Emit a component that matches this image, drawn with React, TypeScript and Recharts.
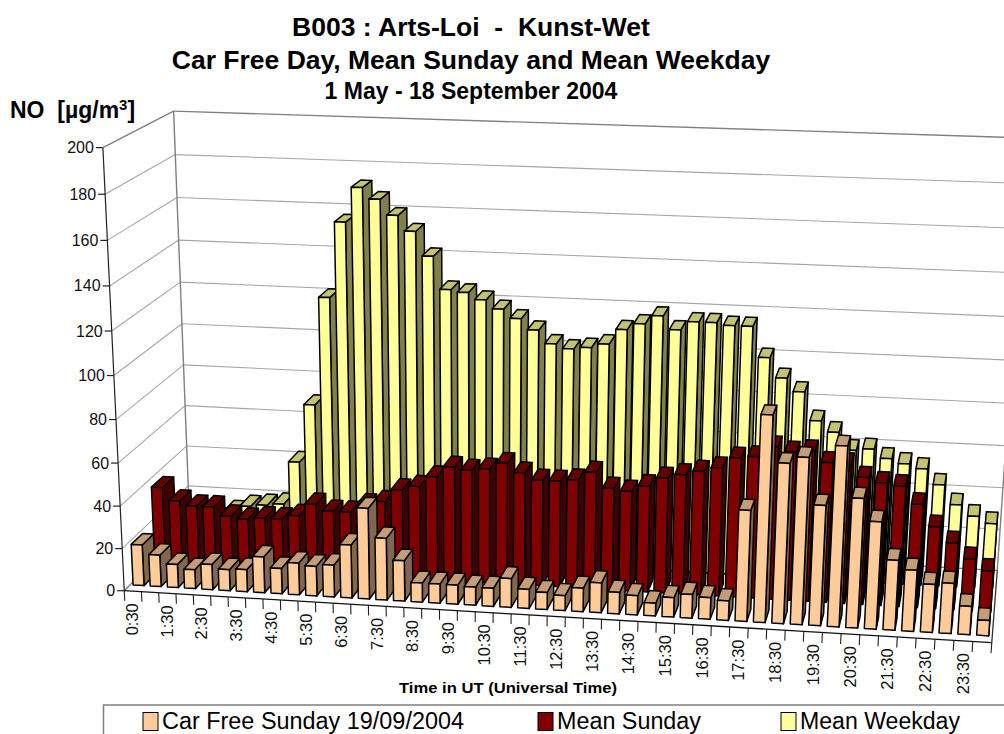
import { BarChart, Bar, XAxis, YAxis, CartesianGrid, Legend } from "recharts";

const times = [
  "0:30", "1:00", "1:30", "2:00", "2:30", "3:00", "3:30", "4:00", "4:30", "5:00", "5:30", "6:00",
  "6:30", "7:00", "7:30", "8:00", "8:30", "9:00", "9:30", "10:00", "10:30", "11:00", "11:30", "12:00",
  "12:30", "13:00", "13:30", "14:00", "14:30", "15:00", "15:30", "16:00", "16:30", "17:00", "17:30", "18:00",
  "18:30", "19:00", "19:30", "20:00", "20:30", "21:00", "21:30", "22:00", "22:30", "23:00", "23:30", "24:00",
];
const carFree = [
  19.4, 15, 11, 9, 12, 10, 10.5, 17, 12, 15, 14, 15,
  25, 42.5, 29, 19, 9, 9, 9, 8.5, 8.5, 13.5, 9, 8,
  7, 11, 14, 10, 9, 6, 9, 11, 10, 9, 51, 94,
  73, 76, 55, 82, 59, 49, 32, 28, 22, 23, 13, 7,
];
const meanSunday = [
  37, 31, 29, 29, 25, 24, 25, 25, 27, 33, 30, 30,
  34, 36, 42, 44, 49, 54, 53, 54, 57, 53, 50, 50,
  51, 55, 48, 47, 50, 54, 56, 58, 60, 65, 66, 71,
  69, 70, 65, 65, 59, 57, 56, 48, 38, 31, 24, 19,
];
const meanWeekday = [
  16, 14, 13, 17, 20, 21, 22, 43, 71, 122, 157, 173,
  168, 161, 154, 143, 128, 127, 124, 120, 116, 111, 105, 103,
  104, 106, 113, 116, 120, 114, 118, 118, 117, 117, 103, 94,
  88, 75, 70, 62, 63, 59, 57, 55, 48, 39, 34, 31,
];
const yTicks = [0, 20, 40, 60, 80, 100, 120, 140, 160, 180, 200];

const data = times.map((time, i) => ({
  time,
  carFree: carFree[i],
  meanSunday: meanSunday[i],
  meanWeekday: meanWeekday[i],
}));

// flat plot area recharts works in, everything gets projected from here
const PLOT = { left: 100, top: 148, width: 900, height: 442 };

// box corners (u along time, w into the page, h up) -> where they sit in the picture
const corners: number[][] = [
  [0, 0, 0, 123, 590],
  [0, 0, 1, 104, 148],
  [0, 1, 1, 172.5, 110.7],
  [0, 1, 0, 191, 526],
  [1, 0, 0, 992, 643],
  [1, 1, 0, 997, 570],
  [1, 1, 1, 1027, 138],
];

function solveCamera() {
  const rows: number[][] = [];
  corners.forEach(([u, w, h, X, Y]) => {
    rows.push([1, u, w, h, 0, 0, 0, 0, -X * u, -X * w, -X * h, X]);
    rows.push([0, 0, 0, 0, 1, u, w, h, -Y * u, -Y * w, -Y * h, Y]);
  });
  const n = 11;
  const m: number[][] = [];
  for (let i = 0; i < n; i++) {
    const r: number[] = [];
    for (let j = 0; j <= n; j++) {
      let s = 0;
      rows.forEach((row) => (s += row[i] * row[j]));
      r.push(s);
    }
    m.push(r);
  }
  for (let i = 0; i < n; i++) {
    let p = i;
    for (let k = i + 1; k < n; k++) if (Math.abs(m[k][i]) > Math.abs(m[p][i])) p = k;
    [m[i], m[p]] = [m[p], m[i]];
    for (let k = 0; k < n; k++) {
      if (k === i) continue;
      const f = m[k][i] / m[i][i];
      for (let j = i; j <= n; j++) m[k][j] -= f * m[i][j];
    }
  }
  return m.map((r, i) => r[n] / r[i]);
}

const cam = solveCamera();

const project = (u: number, w: number, h: number) => {
  const d = 1 + cam[8] * u + cam[9] * w + cam[10] * h;
  return {
    x: (cam[0] + cam[1] * u + cam[2] * w + cam[3] * h) / d,
    y: (cam[4] + cam[5] * u + cam[6] * w + cam[7] * h) / d,
  };
};

const toPoints = (pts: number[][]) =>
  pts
    .map(([u, w, h]) => {
      const p = project(u, w, h);
      return `${p.x.toFixed(1)},${p.y.toFixed(1)}`;
    })
    .join(" ");

const Edge = ({ from, to, color, width }: any) => {
  const a = project(from[0], from[1], from[2]);
  const b = project(to[0], to[1], to[2]);
  return <line x1={a.x} y1={a.y} x2={b.x} y2={b.y} stroke={color} strokeWidth={width} />;
};

const heightOf = (y: number) => (PLOT.top + PLOT.height - y) / PLOT.height;

// one horizontal grid line = a line on the side wall + a line on the back wall
const WallLine = (props: any) => {
  const h = heightOf(props.y1);
  const edge = h > 0.99 || h < 0.01;
  const color = edge ? "#808080" : "#a6a6a6";
  const width = edge ? 1.4 : 1.1;
  return (
    <g key={props.key}>
      <Edge from={[0, 0, h]} to={[0, 1, h]} color={color} width={width} />
      <Edge from={[0, 1, h]} to={[1, 1, h]} color={color} width={width} />
      {h > 0.99 && (
        <>
          <Edge from={[0, 1, 0]} to={[0, 1, 1]} color="#808080" width={1.4} />
          <Edge from={[1, 1, 0]} to={[1, 1, 1]} color="#808080" width={1.4} />
        </>
      )}
    </g>
  );
};

const YTick = ({ y, payload }: any) => {
  const h = heightOf(y);
  const p = project(0, 0, h);
  return (
    <g>
      {h < 0.01 && (
        <>
          <Edge from={[0, 0, 0]} to={[0, 0, 1]} color="#222" width={1.2} />
          <Edge from={[0, 0, 0]} to={[1, 0, 0]} color="#111" width={1.3} />
          <Edge from={[1, 0, 0]} to={[1, 1, 0]} color="#333" width={1.3} />
        </>
      )}
      <line x1={p.x - 7} y1={p.y} x2={p.x} y2={p.y} stroke="#222" strokeWidth={1.2} />
      <text x={p.x - 9} y={p.y + 5.5} textAnchor="end" fontSize={16} fontFamily="Liberation Sans" fill="#111">
        {payload.value}
      </text>
    </g>
  );
};

const XTick = ({ x, payload, index }: any) => {
  const slot = 1 / times.length;
  const u = (x - PLOT.left) / PLOT.width;
  const c = project(u, 0, 0);
  const mark = (at: number) => <Edge from={[at, 0, 0]} to={[at, 0, -0.024]} color="#222" width={1.1} />;
  return (
    <g>
      {mark(u - slot / 2)}
      {index === times.length - 1 && mark(u + slot / 2)}
      {index % 2 === 0 && (
        <text
          transform={`translate(${c.x + 5.5},${c.y + 12}) rotate(-90)`}
          textAnchor="end"
          fontSize={16.5}
          fontFamily="Liberation Sans"
          fill="#111"
        >
          {payload.value}
        </text>
      )}
    </g>
  );
};

// 3d box out of the flat rectangle recharts hands over
const Box = ({ x, y, width, height, w0, w1, front, side, top }: any) => {
  const u0 = (x - PLOT.left) / PLOT.width;
  const u1 = (x + width - PLOT.left) / PLOT.width;
  const h = height > 0 ? heightOf(y) : 0;
  const common = { stroke: "#000", strokeWidth: 1.5, strokeLinejoin: "round" as const };
  return (
    <g>
      <polygon points={toPoints([[u1, w0, 0], [u1, w1, 0], [u1, w1, h], [u1, w0, h]])} fill={side} {...common} />
      <polygon points={toPoints([[u0, w0, h], [u1, w0, h], [u1, w1, h], [u0, w1, h]])} fill={top} {...common} />
      <polygon points={toPoints([[u0, w0, 0], [u1, w0, 0], [u1, w0, h], [u0, w0, h]])} fill={front} {...common} />
    </g>
  );
};

const legendItems = [
  { x: 143, label: "Car Free Sunday 19/09/2004", color: "#FFCC99", len: 302 },
  { x: 538, label: "Mean Sunday", color: "#800000", len: 144 },
  { x: 781, label: "Mean Weekday", color: "#FFFF99", len: 160 },
];

const LegendBox = () => (
  <svg width={1004} height={30} style={{ display: "block" }}>
    <rect x={103.5} y={1} width={910} height={40} fill="#fff" stroke="#808080" strokeWidth={1.5} />
    {legendItems.map((it) => (
      <g key={it.label}>
        <rect x={it.x} y={8.5} width={15} height={18} fill={it.color} stroke="#000" strokeWidth={1} />
        <text
          x={it.x + 19}
          y={25}
          fontSize={23}
          fontFamily="Liberation Sans"
          fill="#000"
          textLength={it.len}
          lengthAdjust="spacingAndGlyphs"
        >
          {it.label}
        </text>
      </g>
    ))}
  </svg>
);

const textStyle = { fontFamily: "Liberation Sans", fontWeight: 700, fill: "#000", style: { whiteSpace: "pre" as const } };

export default function App() {
  return (
    <div style={{ position: "absolute", left: 0, top: 0, width: 1004, height: 734, overflow: "hidden", background: "#fff" }}>
      <svg width={1004} height={734} style={{ position: "absolute", left: 0, top: 0 }}>
        <text x={471} y={36} textAnchor="middle" fontSize={26.5} {...textStyle}>
          {"B003 : Arts-Loi  -  Kunst-Wet"}
        </text>
        <text x={471} y={69} textAnchor="middle" fontSize={26.5} {...textStyle}>
          Car Free Day, Mean Sunday and Mean Weekday
        </text>
        <text x={471} y={99} textAnchor="middle" fontSize={23} {...textStyle}>
          1 May - 18 September 2004
        </text>
        <text x={10} y={118} fontSize={23} {...textStyle}>
          {"NO  [µg/m"}
          <tspan fontSize={15} dy={-8}>3</tspan>
          <tspan dy={8}>]</tspan>
        </text>
        <text x={508} y={693} textAnchor="middle" fontSize={15} textLength={218} lengthAdjust="spacingAndGlyphs" {...textStyle}>
          Time in UT (Universal Time)
        </text>
      </svg>
      <div style={{ position: "absolute", left: 0, top: 0 }}>
        <BarChart
          width={1004}
          height={734}
          data={data}
          barCategoryGap="17%"
          margin={{ top: PLOT.top, left: PLOT.left - 1, right: 1004 - PLOT.left - PLOT.width, bottom: 113 }}
        >
          <CartesianGrid xAxisId="front" vertical={false} horizontal={WallLine} />
          <XAxis xAxisId="back" dataKey="time" hide />
          <XAxis xAxisId="middle" dataKey="time" hide />
          <XAxis
            xAxisId="front"
            dataKey="time"
            height={1}
            interval={0}
            axisLine={false}
            tickLine={false}
            tick={XTick}
          />
          <YAxis
            width={1}
            domain={[0, 200]}
            ticks={yTicks}
            interval={0}
            axisLine={false}
            tickLine={false}
            tick={YTick}
          />
          <Legend height={30} content={LegendBox} wrapperStyle={{ left: 0, top: 704, bottom: "auto", width: 1004 }} />
          <Bar
            xAxisId="back"
            dataKey="meanWeekday"
            name="Mean Weekday"
            isAnimationActive={false}
            shape={(p: any) => <Box {...p} w0={0.725} w1={0.905} front="#FFFF99" side="#80804D" top="#C4C470" />}
          />
          <Bar
            xAxisId="middle"
            dataKey="meanSunday"
            name="Mean Sunday"
            isAnimationActive={false}
            shape={(p: any) => <Box {...p} w0={0.405} w1={0.58} front="#800000" side="#400000" top="#660000" />}
          />
          <Bar
            xAxisId="front"
            dataKey="carFree"
            name="Car Free Sunday 19/09/2004"
            isAnimationActive={false}
            shape={(p: any) => <Box {...p} w0={0.085} w1={0.25} front="#FFCC99" side="#80674D" top="#C49C75" />}
          />
        </BarChart>
      </div>
    </div>
  );
}
